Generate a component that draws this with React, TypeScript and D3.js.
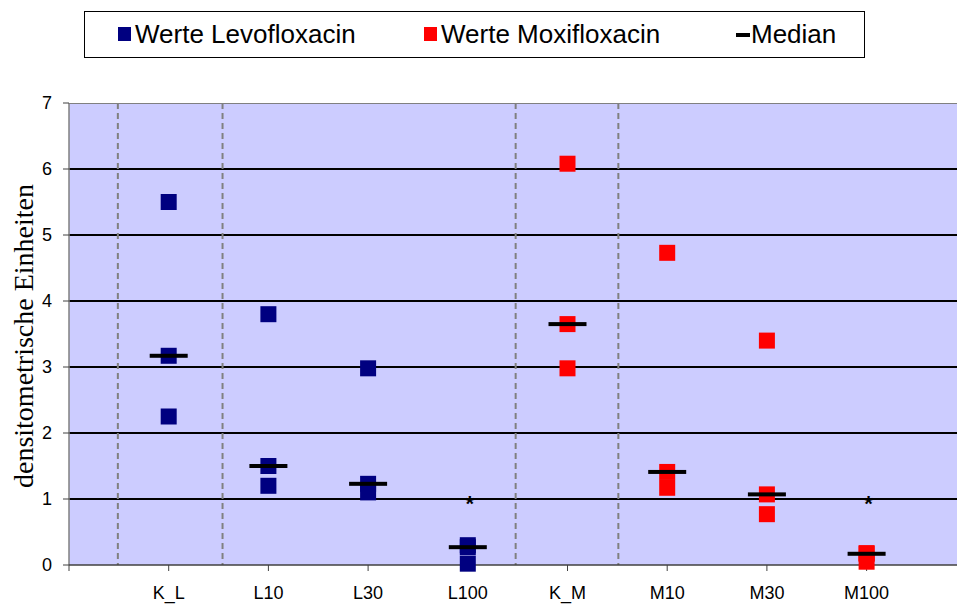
import React from "react";
import * as d3 from "d3";

const categories = ["K_L", "L10", "L30", "L100", "K_M", "M10", "M30", "M100"];
const levoValues: number[][] = [
  [5.5, 3.17, 2.25],
  [3.8, 1.5, 1.2],
  [2.98, 1.23, 1.1],
  [0.3, 0.27, 0.02],
];
const moxiValues: number[][] = [
  [6.08, 3.65, 2.98],
  [4.73, 1.41, 1.17],
  [3.4, 1.07, 0.77],
  [0.18, 0.17, 0.05],
];
const significant = ["L100", "M100"];
const starValue = 1.0;
const separators = [0.49, 1.54, 4.48, 5.51];
const yTicks = [0, 1, 2, 3, 4, 5, 6, 7];
const legendLabels = ["Werte Levofloxacin", "Werte Moxifloxacin", "Median"];

const W = 957;
const H = 605;
const left = 69;
const top = 103;
const bottom = 565;
const unit = 99.7;

export default function App() {
  const x = d3.scaleLinear().domain([0, 9]).range([left, left + 9 * unit]);
  const y = d3.scaleLinear().domain([0, 7]).range([bottom, top]);
  const right = W;

  const groups = [
    ...levoValues.map((v, i) => ({ cat: categories[i], pos: i + 1, vals: v, color: "#000080" })),
    ...moxiValues.map((v, i) => ({ cat: categories[i + 4], pos: i + 5, vals: v, color: "#FF0000" })),
  ];

  const sq = 16;
  const medW = 38;

  return (
    <svg
      width={W}
      height={H}
      style={{ position: "absolute", left: 0, top: 0, background: "#fff" }}
      fontFamily="'Liberation Sans', Arial, sans-serif"
    >
      {/* legend */}
      <rect x={84.5} y={11.5} width={780} height={46} fill="#fff" stroke="#000" strokeWidth={1} />
      <rect x={118} y={27} width={13} height={14} fill="#000080" />
      <text x={135} y={43} fontSize={26} fill="#000">{legendLabels[0]}</text>
      <rect x={424} y={27} width={13} height={14} fill="#FF0000" />
      <text x={441} y={43} fontSize={26} fill="#000">{legendLabels[1]}</text>
      <rect x={736} y={33} width={14} height={4} fill="#000" />
      <text x={751} y={43} fontSize={26} fill="#000">{legendLabels[2]}</text>

      {/* plot area */}
      <rect x={left} y={top} width={right - left} height={bottom - top} fill="#CCCCFF" />
      <line x1={left} x2={right} y1={top + 0.5} y2={top + 0.5} stroke="#808080" strokeWidth={1} />
      {yTicks.filter((t) => t > 0 && t < 7).map((t) => (
        <line key={t} x1={left} x2={right} y1={y(t)} y2={y(t)} stroke="#000" strokeWidth={2} />
      ))}
      {separators.map((s, i) => (
        <line
          key={i}
          x1={x(s)}
          x2={x(s)}
          y1={top}
          y2={bottom}
          stroke="#808080"
          strokeWidth={2}
          strokeDasharray="6,4"
        />
      ))}

      {/* axes */}
      <line x1={left} x2={left} y1={top} y2={bottom} stroke="#808080" strokeWidth={1.5} />
      <line x1={left} x2={right} y1={bottom} y2={bottom} stroke="#404040" strokeWidth={1.5} />
      {yTicks.map((t) => (
        <g key={t}>
          <line x1={left - 6} x2={left} y1={y(t)} y2={y(t)} stroke="#404040" strokeWidth={1} />
          <text x={left - 17} y={y(t)} dy="0.35em" textAnchor="end" fontSize={18} fill="#000">
            {t}
          </text>
        </g>
      ))}
      <line x1={left} x2={left} y1={bottom} y2={bottom + 6} stroke="#404040" strokeWidth={1} />
      {categories.map((c, i) => (
        <g key={c}>
          <line x1={x(i + 1)} x2={x(i + 1)} y1={bottom} y2={bottom + 6} stroke="#404040" strokeWidth={1} />
          <text x={x(i + 1)} y={599} textAnchor="middle" fontSize={18} fill="#000">
            {c}
          </text>
        </g>
      ))}
      <text
        transform={`translate(${33},${(top + bottom) / 2 + 2}) rotate(-90)`}
        textAnchor="middle"
        fontFamily="'Liberation Serif', 'Times New Roman', serif"
        fontSize={28}
        fill="#000"
      >
        densitometrische Einheiten
      </text>

      {/* points */}
      {groups.map((g) =>
        g.vals.map((v, j) => (
          <rect
            key={g.cat + j}
            x={x(g.pos) - sq / 2}
            y={y(v) - sq / 2}
            width={sq}
            height={sq}
            fill={g.color}
          />
        ))
      )}
      {/* medians */}
      {groups.map((g) => {
        const m = d3.median(g.vals) as number;
        return (
          <rect key={g.cat + "m"} x={x(g.pos) - medW / 2} y={y(m) - 2} width={medW} height={4} fill="#000" />
        );
      })}
      {/* significance stars */}
      {significant.map((c) => {
        const i = categories.indexOf(c);
        return (
          <text key={c} x={x(i + 1) + 2} y={y(starValue) + 12} textAnchor="middle" fontSize={22} fontWeight="bold" fill="#000">
            *
          </text>
        );
      })}
    </svg>
  );
}
